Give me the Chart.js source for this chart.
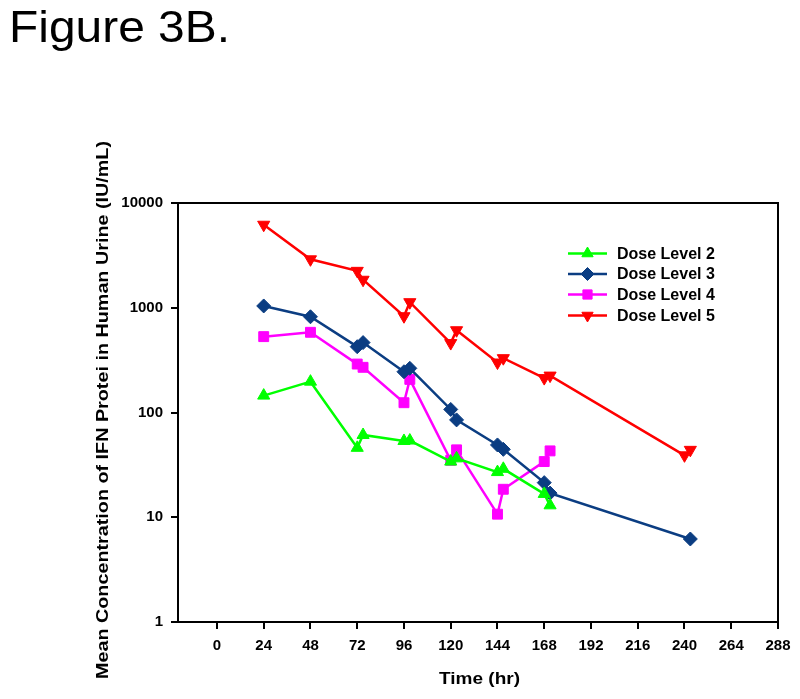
<!DOCTYPE html>
<html>
<head>
<meta charset="utf-8">
<script src="https://cdn.jsdelivr.net/npm/chart.js@4/dist/chart.umd.min.js"></script>
<style>
  html, body { margin: 0; padding: 0; background: #fff; }
  #wrap { width: 800px; height: 699px; position: relative; }
</style>
</head>
<body>
<div id="wrap"><canvas id="c" width="800" height="699"></canvas></div>
<script>
// ---- Data ----
const figureTitle = "Figure 3B.";
const xTitle = "Time (hr)";
const yTitle = "Mean Concentration of IFN Protei in Human Urine (IU/mL)";
const xTicks = [0, 24, 48, 72, 96, 120, 144, 168, 192, 216, 240, 264, 288];
const yTicks = [1, 10, 100, 1000, 10000];

const seriesNames = ["Dose Level 2", "Dose Level 3", "Dose Level 4", "Dose Level 5"];

const timeDL2 = [24, 48, 72, 75, 96, 99, 120, 123, 144, 147, 168, 171];
const concDL2 = [145, 197, 46, 61, 53.5, 54, 34, 36.5, 27, 29, 16.7, 13];

const timeDL3 = [24, 48, 72, 75, 96, 99, 120, 123, 144, 147, 168, 171, 243];
const concDL3 = [1040, 820, 425, 465, 245, 264, 107, 85, 49, 44.5, 21.4, 17, 6.2];

const timeDL4 = [24, 48, 72, 75, 96, 99, 120, 123, 144, 147, 168, 171];
const concDL4 = [530, 583, 290, 270, 124, 207, 35, 44, 10.7, 18.5, 34, 43];

const timeDL5 = [24, 48, 72, 75, 96, 99, 120, 123, 144, 147, 168, 171, 240, 243];
const concDL5 = [6200, 2900, 2250, 1850, 830, 1130, 460, 610, 300, 330, 213, 225, 39, 44];

// ---- Styles ----
const colors = ["#00FF00", "#0B3D82", "#FF00FF", "#FF0000"];
const styles = [
  { pointStyle: "triangle", rotation: 0, radius: 7 },
  { pointStyle: "rectRot", rotation: 0, radius: 7 },
  { pointStyle: "rect", rotation: 0, radius: 7 },
  { pointStyle: "triangle", rotation: 180, radius: 7 }
];

function pts(xs, ys) { return xs.map((x, i) => ({ x: x, y: ys[i] })); }
const allSeries = [pts(timeDL2, concDL2), pts(timeDL3, concDL3), pts(timeDL4, concDL4), pts(timeDL5, concDL5)];

const FONT = "'Liberation Sans', Arial, Helvetica, sans-serif";

const datasets = allSeries.map((d, i) => ({
  label: seriesNames[i],
  data: d,
  borderColor: colors[i],
  backgroundColor: colors[i],
  pointBackgroundColor: colors[i],
  pointBorderColor: colors[i],
  pointBorderWidth: 1,
  pointStyle: styles[i].pointStyle,
  pointRotation: styles[i].rotation,
  pointRadius: styles[i].radius,
  borderWidth: 2.5,
  tension: 0,
  fill: false,
  clip: false
}));

function drawStretchedText(ctx, text, x, y, font, targetWidth, align) {
  ctx.font = font;
  const w = ctx.measureText(text).width;
  const sx = targetWidth ? targetWidth / w : 1;
  ctx.save();
  ctx.translate(x, y);
  ctx.scale(sx, 1);
  ctx.textAlign = align || "left";
  ctx.fillText(text, 0, 0);
  ctx.restore();
}

const decorPlugin = {
  id: "decor",
  afterDraw(chart) {
    const ctx = chart.ctx;
    const a = chart.chartArea;
    ctx.save();
    // frame (top & right)
    ctx.strokeStyle = "#000";
    ctx.lineWidth = 2;
    ctx.beginPath();
    ctx.moveTo(a.left, a.top);
    ctx.lineTo(a.right, a.top);
    ctx.lineTo(a.right, a.bottom);
    ctx.stroke();

    ctx.fillStyle = "#000";
    ctx.textBaseline = "alphabetic";
    // figure title
    drawStretchedText(ctx, figureTitle, 9, 42, "45px " + FONT, 221, "left");
    // x title
    drawStretchedText(ctx, xTitle, 479.5, 684, "bold 17px " + FONT, 81, "center");
    // y title (rotated)
    ctx.save();
    ctx.translate(108, 410);
    ctx.rotate(-Math.PI / 2);
    drawStretchedText(ctx, yTitle, 0, 0, "bold 16px " + FONT, 538, "center");
    ctx.restore();

    // legend
    const rowsY = [253.5, 274, 294.5, 315.5];
    const lx0 = 568, lx1 = 607, mx = 587.5, tx = 617;
    ctx.font = "bold 16px " + FONT;
    ctx.textAlign = "left";
    ctx.textBaseline = "middle";
    chart.data.datasets.forEach((ds, i) => {
      const y = rowsY[i];
      ctx.strokeStyle = colors[i];
      ctx.lineWidth = 2.5;
      ctx.beginPath();
      ctx.moveTo(lx0, y);
      ctx.lineTo(lx1, y);
      ctx.stroke();
      ctx.fillStyle = colors[i];
      ctx.strokeStyle = colors[i];
      ctx.lineWidth = 1;
      Chart.helpers.drawPoint(ctx, {
        pointStyle: styles[i].pointStyle,
        radius: styles[i].radius - 0.5,
        rotation: styles[i].rotation,
        borderWidth: 1
      }, mx, y);
      ctx.fillStyle = "#000";
      ctx.fillText(ds.label, tx, y + 1);
    });
    ctx.restore();
  }
};

new Chart(document.getElementById("c"), {
  type: "line",
  data: { datasets: datasets },
  options: {
    responsive: false,
    animation: false,
    devicePixelRatio: 1,
    layout: { padding: { top: 203, right: 22, bottom: 0, left: 0 } },
    plugins: {
      legend: { display: false },
      tooltip: { enabled: false },
      title: { display: false }
    },
    scales: {
      x: {
        type: "linear",
        min: -20,
        max: 288,
        afterBuildTicks: (scale) => { scale.ticks = xTicks.map(v => ({ value: v })); },
        afterFit: (scale) => { scale.height = 77; },
        grid: { drawOnChartArea: false, drawTicks: true, tickLength: 7, color: "#000", lineWidth: 2 },
        border: { display: true, color: "#000", width: 2 },
        ticks: {
          color: "#000",
          font: { family: FONT, size: 15, weight: "bold" },
          padding: 8,
          maxRotation: 0,
          autoSkip: false
        }
      },
      y: {
        type: "logarithmic",
        min: 1,
        max: 10000,
        afterBuildTicks: (scale) => { scale.ticks = yTicks.map(v => ({ value: v })); },
        afterFit: (scale) => { scale.width = 178; },
        grid: { drawOnChartArea: false, drawTicks: true, tickLength: 7, color: "#000", lineWidth: 2 },
        border: { display: true, color: "#000", width: 2 },
        ticks: {
          color: "#000",
          font: { family: FONT, size: 15, weight: "bold" },
          padding: 8,
          autoSkip: false,
          callback: (v) => String(v)
        }
      }
    }
  },
  plugins: [decorPlugin]
});
</script>
</body>
</html>
